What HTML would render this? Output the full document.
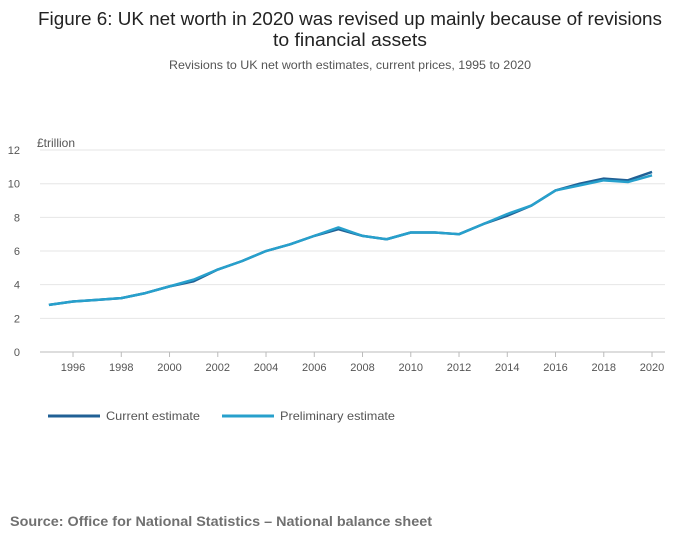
<!DOCTYPE html>
<html><head><meta charset="utf-8"><style>
body{margin:0;background:#fff;width:700px;height:549px;overflow:hidden;font-family:"Liberation Sans",sans-serif}
</style></head><body>
<svg width="700" height="549" xmlns="http://www.w3.org/2000/svg">
<text x="350" y="25" text-anchor="middle" font-size="18" fill="#222" textLength="624" lengthAdjust="spacingAndGlyphs">Figure 6: UK net worth in 2020 was revised up mainly because of revisions</text>
<text x="350" y="46" text-anchor="middle" font-size="18" fill="#222" textLength="154" lengthAdjust="spacingAndGlyphs">to financial assets</text>
<text x="350" y="69" text-anchor="middle" font-size="12" fill="#555" textLength="362" lengthAdjust="spacingAndGlyphs">Revisions to UK net worth estimates, current prices, 1995 to 2020</text>
<text x="37" y="147" font-size="12" fill="#555">£trillion</text>
<g id="grid"></g><g id="xt"></g><g id="lines"></g>
<g>
<line x1="48" y1="416" x2="100" y2="416" stroke="#206095" stroke-width="3"/>
<text x="106" y="420" font-size="12" fill="#555" textLength="94" lengthAdjust="spacingAndGlyphs">Current estimate</text>
<line x1="222" y1="416" x2="274" y2="416" stroke="#27a0cc" stroke-width="3"/>
<text x="280" y="420" font-size="12" fill="#555" textLength="115" lengthAdjust="spacingAndGlyphs">Preliminary estimate</text>
</g>
<text x="10" y="526" font-size="14" font-weight="bold" fill="#707070" textLength="422" lengthAdjust="spacingAndGlyphs">Source: Office for National Statistics – National balance sheet</text>
</svg>
<script>
const years=[1995,1996,1997,1998,1999,2000,2001,2002,2003,2004,2005,2006,2007,2008,2009,2010,2011,2012,2013,2014,2015,2016,2017,2018,2019,2020];
const current=[2.8,3.0,3.1,3.2,3.5,3.9,4.2,4.9,5.4,6.0,6.4,6.9,7.3,6.9,6.7,7.1,7.1,7.0,7.6,8.1,8.7,9.6,10.0,10.3,10.2,10.7];
const preliminary=[2.8,3.0,3.1,3.2,3.5,3.9,4.3,4.9,5.4,6.0,6.4,6.9,7.4,6.9,6.7,7.1,7.1,7.0,7.6,8.2,8.7,9.6,9.9,10.2,10.1,10.5];
const yTicks=[0,2,4,6,8,10,12];
const xTicks=[1996,1998,2000,2002,2004,2006,2008,2010,2012,2014,2016,2018,2020];
const NS="http://www.w3.org/2000/svg";
const x=v=>48.9+(v-1995)*24.125, y=v=>352-v*16.83;
function mk(t,a,p){const e=document.createElementNS(NS,t);for(const k in a)e.setAttribute(k,a[k]);p.appendChild(e);return e;}
const g=document.getElementById('grid');
yTicks.forEach(t=>{
 const l=mk('line',{x1:40,x2:665,y1:y(t),y2:y(t),stroke:t===0?'#bbb':'#e6e6e6'},g);
 
 
 const tx=mk('text',{x:20,y:y(t)+4,'font-size':11,fill:'#555','text-anchor':'end'},g);tx.textContent=t;
 
 
});
const xt=document.getElementById('xt');
xTicks.forEach(t=>{
 mk('line',{x1:x(t),x2:x(t),y1:352,y2:357,stroke:'#bbb'},xt);
 const tx=mk('text',{x:x(t),y:371,'font-size':11,fill:'#555','text-anchor':'middle'},xt);tx.textContent=t;
 
 
});
const L=document.getElementById('lines');
[[current,'#206095','current-estimate-line'],[preliminary,'#27a0cc','preliminary-estimate-line']].forEach(([d,c,n])=>{
 const p=mk('path',{d:d.map((v,i)=>(i?'L':'M')+x(years[i])+' '+y(v)).join(''),fill:'none',stroke:c,'stroke-width':2.5,'stroke-linejoin':'round'},L);
 
 
});
</script>
</body></html>
